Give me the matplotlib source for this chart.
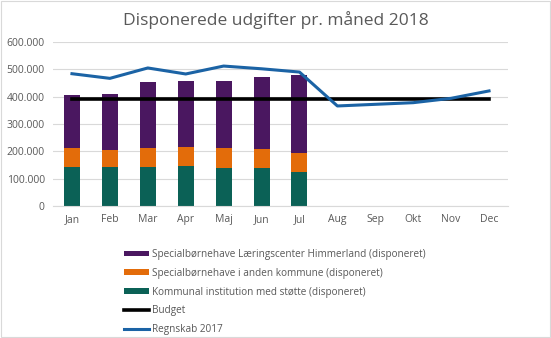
import numpy as np
import matplotlib
matplotlib.use('Agg')
import matplotlib.pyplot as plt
from matplotlib.ticker import FuncFormatter

months = ['Jan', 'Feb', 'Mar', 'Apr', 'Maj', 'Jun', 'Jul', 'Aug', 'Sep', 'Okt', 'Nov', 'Dec']
kommunal = [144000, 144000, 144000, 148000, 140000, 140000, 126000]
anden_kommune = [69000, 61000, 69000, 69000, 73000, 70000, 69000]
laeringscenter = [193000, 205000, 242000, 241000, 245000, 263000, 284000]
budget = [391000] * 12
regnskab_2017 = [484000, 467000, 505000, 483000, 512000, 502000, 490000,
                 366000, 372000, 378000, 394000, 421000]

plt.rcParams['font.family'] = ['Open Sans', 'DejaVu Sans']

fig = plt.figure(figsize=(5.51, 3.38), dpi=100)
ax = fig.add_axes([53/551, 1-206/338, 455/551, 164/338])

x = np.arange(len(months))
xb = x[:len(kommunal)]
w = 0.42
green, orange, purple = '#0B6156', '#E36C0A', '#4A1760'
b1 = ax.bar(xb, kommunal, w, color=green, zorder=2)
bottom2 = np.array(kommunal)
b2 = ax.bar(xb, anden_kommune, w, bottom=bottom2, color=orange, zorder=2)
bottom3 = bottom2 + np.array(anden_kommune)
b3 = ax.bar(xb, laeringscenter, w, bottom=bottom3, color=purple, zorder=2)
l1, = ax.plot(x, budget, color='black', lw=2.6, zorder=3)
l2, = ax.plot(x, regnskab_2017, color='#1B63A5', lw=2.2, zorder=4)

ax.set_xlim(-0.5, 11.5)
ax.set_ylim(0, 600000)
ax.set_yticks(np.arange(0, 600001, 100000))
ax.yaxis.set_major_formatter(FuncFormatter(lambda v, p: '0' if v == 0 else f'{int(v):,}'.replace(',', '.')))
ax.set_xticks(x)
ax.set_xticklabels(months)
ax.grid(axis='y', color='#D9D9D9', lw=0.8, zorder=0)
for s in ax.spines.values():
    s.set_visible(False)
ax.spines['bottom'].set_visible(True)
ax.spines['bottom'].set_color('#D9D9D9')
ax.tick_params(length=0, labelsize=7.5, colors='#595959', pad=6)

fig.text(0.5, 1-20/338, 'Disponerede udgifter pr. måned 2018', ha='center', va='center',
         fontsize=12.5, color='#595959')

leg = fig.legend([b3, b2, b1, l1, l2],
                 ['Specialbørnehave Læringscenter Himmerland (disponeret)',
                  'Specialbørnehave i anden kommune (disponeret)',
                  'Kommunal institution med støtte (disponeret)',
                  'Budget', 'Regnskab 2017'],
                 loc='upper left', bbox_to_anchor=(115/551, 1-240/338), frameon=False,
                 fontsize=7.2, labelcolor='#595959', handlelength=2.5, handleheight=0.5,
                 handletextpad=0.3, labelspacing=0.78)

fig.patches.append(plt.Rectangle((0.001, 0.002), 0.997, 0.995, transform=fig.transFigure,
                                 fill=False, edgecolor='#D9D9D9', lw=0.8))

fig.savefig('out.png', dpi=100)
